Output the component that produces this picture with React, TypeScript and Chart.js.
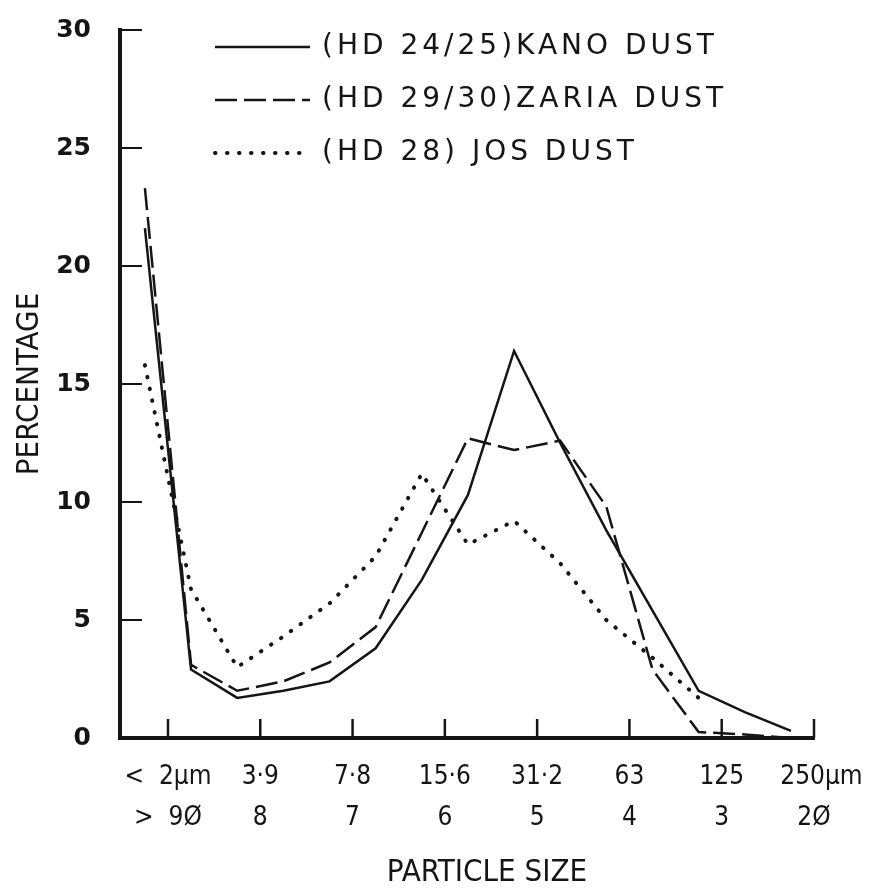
import React, { useEffect, useRef } from 'react';
import { Chart, registerables } from 'chart.js';

Chart.register(...registerables);

// Particle size class mid-points in phi units
const phiMidpoints = [9.25, 8.75, 8.25, 7.75, 7.25, 6.75, 6.25, 5.75, 5.25, 4.75, 4.25, 3.75, 3.25, 2.75, 2.25];
const kanoPercent = [21.6, 2.9, 1.7, 2.0, 2.4, 3.8, 6.7, 10.3, 16.4, 12.5, 8.8, 5.4, 2.0, 1.1, 0.3];
const zariaPercent = [23.3, 3.1, 2.0, 2.4, 3.2, 4.7, 8.7, 12.7, 12.2, 12.6, 9.8, 2.9, 0.25, 0.15, 0.0];
const josPhi = [9.25, 8.75, 8.25, 7.75, 7.25, 6.75, 6.25, 5.75, 5.25, 4.75, 4.25, 3.75, 3.25];
const josPercent = [15.8, 6.3, 3.0, 4.3, 5.7, 7.7, 11.2, 8.2, 9.2, 7.4, 5.0, 3.4, 1.7];

const seriesNames = ['(HD 24/25)KANO DUST', '(HD 29/30)ZARIA DUST', '(HD 28) JOS DUST'];

const phiTicks = [9, 8, 7, 6, 5, 4, 3, 2];
const micronLabels = ['<  2µm', '3·9', '7·8', '15·6', '31·2', '63', '125', '  250µm'];
const phiLabels = ['>  9Ø', '8', '7', '6', '5', '4', '3', '2Ø'];
const percentTicks = [0, 5, 10, 15, 20, 25, 30];

const xTitle = 'PARTICLE SIZE';
const yTitle = 'PERCENTAGE';

const INK = '#151515';
const CONDENSED = "'DejaVu Sans Condensed', 'Liberation Sans Narrow', 'DejaVu Sans', sans-serif";
const WIDE = "'DejaVu Sans', 'Liberation Sans', sans-serif";

const decorPlugin = {
  id: 'decor',
  afterDatasetsDraw(chart: any) {
    const { ctx, chartArea } = chart;
    const xs = chart.scales.x;
    const ys = chart.scales.y;
    ctx.save();
    ctx.strokeStyle = INK;
    ctx.lineCap = 'butt';
    // inward y tick marks
    ctx.lineWidth = 2;
    percentTicks.forEach((v) => {
      if (v === 0) return;
      const py = ys.getPixelForValue(v);
      ctx.beginPath();
      ctx.moveTo(chartArea.left, py);
      ctx.lineTo(chartArea.left + 22, py);
      ctx.stroke();
    });
    // inward x tick marks
    ctx.lineWidth = 2.5;
    phiTicks.forEach((v) => {
      const px = xs.getPixelForValue(v);
      ctx.beginPath();
      ctx.moveTo(px, chartArea.bottom);
      ctx.lineTo(px, chartArea.bottom - 19);
      ctx.stroke();
    });
    // x axis title
    ctx.fillStyle = INK;
    ctx.font = `31px ${CONDENSED}`;
    ctx.textAlign = 'center';
    ctx.textBaseline = 'middle';
    ctx.fillText(xTitle, 487, 873);

    // legend
    const rows = [47, 100, 153];
    chart.data.datasets.forEach((ds: any, i: number) => {
      const y = rows[i];
      ctx.save();
      ctx.strokeStyle = ds.borderColor;
      ctx.lineWidth = ds.borderWidth;
      ctx.lineCap = ds.borderCapStyle || 'butt';
      ctx.setLineDash(ds.borderDash || []);
      ctx.beginPath();
      ctx.moveTo(215, y);
      ctx.lineTo(310, y);
      ctx.stroke();
      ctx.restore();
      ctx.save();
      ctx.fillStyle = INK;
      ctx.font = `28px ${WIDE}`;
      (ctx as any).letterSpacing = '4px';
      ctx.textAlign = 'left';
      ctx.textBaseline = 'middle';
      ctx.fillText(ds.label, 322, y);
      ctx.restore();
    });
    ctx.restore();
  },
};

export default function App() {
  const canvasRef = useRef<HTMLCanvasElement | null>(null);

  useEffect(() => {
    if (!canvasRef.current) return;
    const chart = new Chart(canvasRef.current, {
      type: 'line',
      data: {
        datasets: [
          {
            label: seriesNames[0],
            data: phiMidpoints.map((p, i) => ({ x: p, y: kanoPercent[i] })),
            borderColor: INK,
            borderWidth: 2.5,
            borderDash: [],
            pointRadius: 0,
            tension: 0,
            fill: false,
          },
          {
            label: seriesNames[1],
            data: phiMidpoints.map((p, i) => ({ x: p, y: zariaPercent[i] })),
            borderColor: INK,
            borderWidth: 2.5,
            borderDash: [22, 7],
            pointRadius: 0,
            tension: 0,
            fill: false,
          },
          {
            label: seriesNames[2],
            data: josPhi.map((p, i) => ({ x: p, y: josPercent[i] })),
            borderColor: INK,
            borderWidth: 4,
            borderDash: [0.5, 11.5],
            borderCapStyle: 'round',
            pointRadius: 0,
            tension: 0,
            fill: false,
          },
        ],
      },
      options: {
        animation: false,
        responsive: false,
        layout: { padding: { top: 30, right: 79, left: 0, bottom: 0 } },
        plugins: { legend: { display: false }, tooltip: { enabled: false } },
        scales: {
          x: {
            type: 'linear',
            min: 2,
            max: 9.52,
            reverse: true,
            afterBuildTicks: (s: any) => {
              s.ticks = phiTicks.map((v) => ({ value: v }));
            },
            afterFit: (s: any) => {
              s.height = 152;
            },
            grid: { display: false, drawTicks: false },
            border: { display: true, width: 4, color: INK },
            ticks: {
              autoSkip: false,
              maxRotation: 0,
              minRotation: 0,
              padding: 19,
              color: INK,
              font: { family: CONDENSED, size: 26, lineHeight: 1.58 },
              callback: (_v: any, i: number) => [micronLabels[i], phiLabels[i]],
            },
          },
          y: {
            type: 'linear',
            min: 0,
            max: 30,
            afterBuildTicks: (s: any) => {
              s.ticks = percentTicks.map((v) => ({ value: v }));
            },
            afterFit: (s: any) => {
              s.width = 120;
              s.paddingTop = 0;
              s.paddingBottom = 0;
            },
            grid: { display: false, drawTicks: false },
            border: { display: true, width: 4, color: INK },
            ticks: {
              padding: 29,
              color: INK,
              font: { family: WIDE, size: 25, weight: 'bold' },
            },
            title: {
              display: true,
              text: yTitle,
              color: INK,
              font: { family: CONDENSED, size: 31 },
              padding: { top: 11, bottom: 0 },
            },
          },
        },
      },
      plugins: [decorPlugin],
    } as any);
    return () => chart.destroy();
  }, []);

  return (
    <div style={{ position: 'fixed', left: 0, top: 0, width: 893, height: 890, background: '#fff' }}>
      <canvas ref={canvasRef} width={893} height={890} style={{ display: 'block' }} />
    </div>
  );
}
